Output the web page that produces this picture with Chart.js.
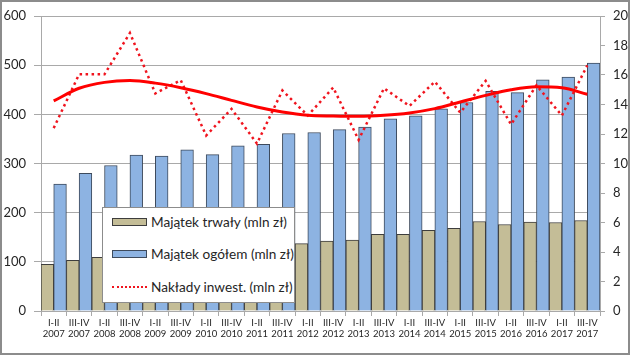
<!DOCTYPE html>
<html>
<head>
<meta charset="utf-8">
<script src="https://cdn.jsdelivr.net/npm/chart.js@4.4.1/dist/chart.umd.min.js"></script>
<style>
  html, body { margin: 0; padding: 0; background: #ffffff; }
  #wrap { position: relative; width: 630px; height: 355px; overflow: hidden; }
  #frame { position: absolute; left: 0; top: 0; width: 626px; height: 351px; border: 2px solid #8c8c8c; pointer-events: none; }
  #legend { position: absolute; left: 102px; top: 207px; width: 191px; height: 94px; background: #ffffff; border: 1px solid #8c8c8c; font-family: Lato, "Liberation Sans", sans-serif; font-size: 13.6px; color: #262626; }
  .row { position: absolute; left: 9px; height: 16px; display: flex; align-items: center; white-space: nowrap; }
  .sw { width: 35px; height: 8px; margin-right: 4px; box-sizing: border-box; }
  .dot { width: 35px; height: 0; margin-right: 4px; border-top: 2.5px dotted #f0141e; }
</style>
</head>
<body>
<div id="wrap">
  <canvas id="c" width="630" height="355"></canvas>
  <div id="legend"></div>
  <div id="frame"></div>
</div>
<script>
const periods = ['I-II','III-IV','I-II','III-IV','I-II','III-IV','I-II','III-IV','I-II','III-IV','I-II','III-IV','I-II','III-IV','I-II','III-IV','I-II','III-IV','I-II','III-IV','I-II','III-IV'];
const years = ['2007','2007','2008','2008','2009','2009','2010','2010','2011','2011','2012','2012','2013','2013','2014','2014','2015','2015','2016','2016','2017','2017'];
const majatekTrwaly = [95, 103, 109, 113, 116, 119, 118, 124, 127, 131, 137, 142, 144, 156, 156, 164, 168, 182, 176, 181, 180, 184];
const majatekOgolem = [258, 280, 296, 317, 315, 328, 318, 336, 339, 361, 363, 369, 374, 391, 397, 411, 424, 447, 444, 470, 476, 504];
const nakladyInwest = [12.4, 16.05, 16.05, 18.85, 14.75, 15.65, 11.9, 13.7, 11.35, 14.95, 13.25, 15.15, 11.6, 15.1, 13.9, 15.55, 13.45, 15.6, 12.65, 15.3, 13.25, 16.65];
const trendNaklady = [14.24, 15.1, 15.5, 15.62, 15.45, 15.14, 14.74, 14.28, 13.83, 13.49, 13.27, 13.22, 13.2, 13.27, 13.43, 13.72, 14.17, 14.62, 15.0, 15.2, 15.14, 14.69];
const leftTicks = [0, 100, 200, 300, 400, 500, 600];
const rightTicks = [0, 2, 4, 6, 8, 10, 12, 14, 16, 18, 20];

const labels = periods.map((p, i) => [p, years[i]]);
const tickFont = { family: 'Lato, "Liberation Sans", sans-serif', size: 13 };
const xFont = { family: 'Lato, "Liberation Sans", sans-serif', size: 9.5 };
const gridCol = '#a9a9a9';

const data = {
  labels: labels,
  datasets: [
    { type: 'bar', label: 'Majątek trwały (mln zł)', data: majatekTrwaly, backgroundColor: '#c4bd97', borderColor: '#3d3d3d', borderWidth: 1, yAxisID: 'y', order: 2, barPercentage: 1, categoryPercentage: 1 },
    { type: 'bar', label: 'Majątek ogółem (mln zł)', data: majatekOgolem, backgroundColor: '#8db3e2', borderColor: '#3d4a5c', borderWidth: 1, yAxisID: 'y', order: 3, barPercentage: 1, categoryPercentage: 1 },
    { type: 'line', label: 'Nakłady inwest. (mln zł)', data: nakladyInwest, borderColor: '#f0141e', borderWidth: 2.5, borderDash: [2.5, 3.5], pointRadius: 0, tension: 0, fill: false, yAxisID: 'y1', order: 1 },
    { type: 'line', label: '', data: trendNaklady, borderColor: '#ff0000', borderWidth: 3, pointRadius: 0, tension: 0.4, cubicInterpolationMode: 'monotone', fill: false, yAxisID: 'y1', order: 0 }
  ]
};

const chart = new Chart(document.getElementById('c'), {
  data: data,
  options: {
    responsive: false,
    animation: false,
    layout: { padding: { top: 16, left: 0, right: 0, bottom: 0 } },
    plugins: { legend: { display: false }, tooltip: { enabled: false } },
    scales: {
      x: {
        offset: true,
        grid: { display: true, offset: true, drawOnChartArea: false, color: gridCol, tickLength: 5 },
        border: { display: true, color: gridCol },
        ticks: { autoSkip: false, maxRotation: 0, minRotation: 0, font: xFont, color: '#262626', padding: 1 },
        afterFit: s => { s.height = 44; }
      },
      y: {
        position: 'left', min: 0, max: 600,
        afterBuildTicks: s => { s.ticks = leftTicks.map(v => ({ value: v })); },
        grid: { color: gridCol, tickLength: 7 },
        border: { display: true, color: gridCol },
        ticks: { font: tickFont, color: '#262626', padding: 8 },
        afterFit: s => { s.width = 41; }
      },
      y1: {
        position: 'right', min: 0, max: 20,
        afterBuildTicks: s => { s.ticks = rightTicks.map(v => ({ value: v })); },
        grid: { drawOnChartArea: false, color: gridCol, tickLength: 5 },
        border: { display: true, color: gridCol },
        ticks: { font: tickFont, color: '#262626', padding: 8 },
        afterFit: s => { s.width = 30; }
      }
    }
  }
});

// HTML legend built from the chart's datasets
const legendEl = document.getElementById('legend');
const rowTops = [6, 38, 71];
chart.data.datasets.filter(d => d.label).forEach((d, i) => {
  const row = document.createElement('div');
  row.className = 'row';
  row.style.top = rowTops[i] + 'px';
  const sw = document.createElement('span');
  if (d.type === 'bar') {
    sw.className = 'sw';
    sw.style.background = d.backgroundColor;
    sw.style.border = '1px solid ' + d.borderColor;
  } else {
    sw.className = 'dot';
  }
  const tx = document.createElement('span');
  tx.textContent = d.label;
  row.appendChild(sw);
  row.appendChild(tx);
  legendEl.appendChild(row);
});
</script>
</body>
</html>
